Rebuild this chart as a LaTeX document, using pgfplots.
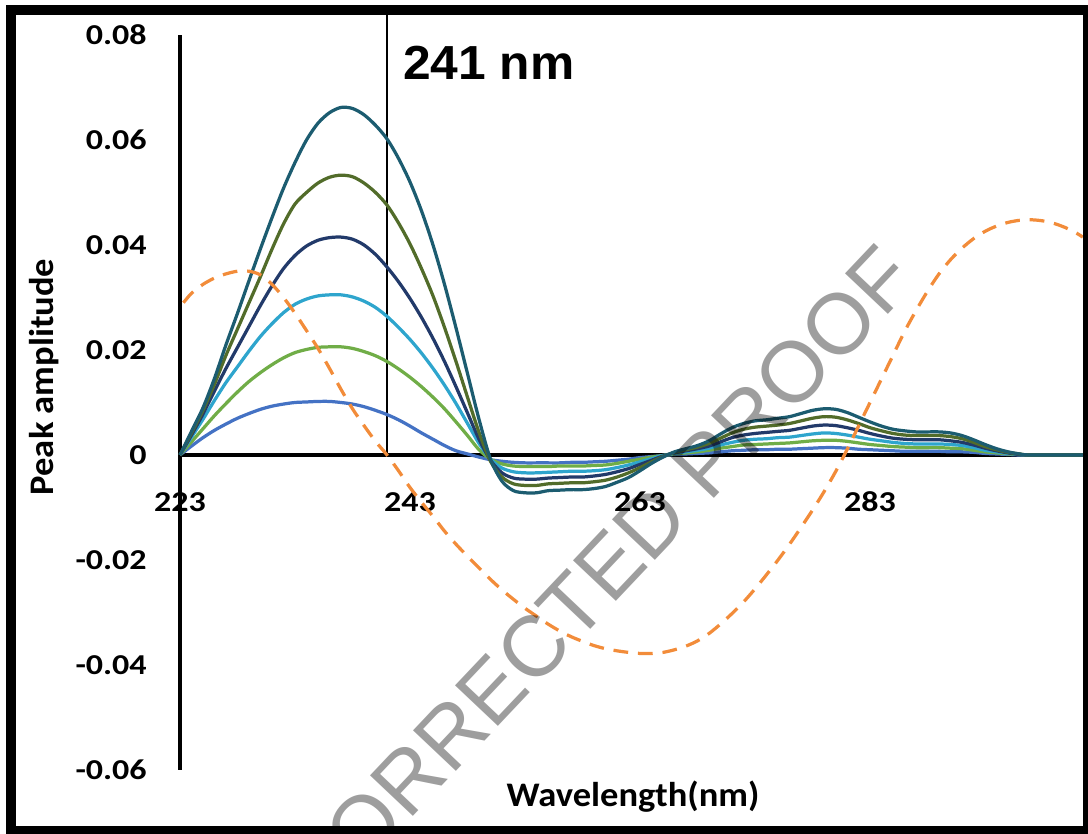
\documentclass[border=0pt]{standalone}
\usepackage{fontspec}
\usepackage{pgfplots}
\usepackage{pgfplotstable}
\pgfplotsset{compat=1.18}

\newfontfamily\tickfont{Carlito}[FakeStretch=1.18]
\newfontfamily\labfont{Carlito}[FakeStretch=1.06]
\newfontfamily\headfont{Liberation Sans}[FakeStretch=1.04]
\newfontfamily\wmfont{Liberation Sans}

\definecolor{sBlue}{RGB}{68,114,196}
\definecolor{sGreen}{RGB}{112,173,71}
\definecolor{sCyan}{RGB}{46,165,205}
\definecolor{sNavy}{RGB}{34,58,106}
\definecolor{sOlive}{RGB}{82,108,42}
\definecolor{sTeal}{RGB}{28,92,112}
\definecolor{sOrange}{RGB}{242,140,58}

% six concentrations, first-derivative style spectra
\pgfplotstableread{
x     c1      c2      c3      c4      c5      c6
223   0       0       0       0       0       0
224   0.0017  0.0025  0.0034  0.0038  0.0042  0.0045
225   0.0033  0.0050  0.0068  0.0078  0.0085  0.0090
226   0.0047  0.0075  0.0104  0.0122  0.0135  0.0146
227   0.0059  0.0098  0.0138  0.0165  0.0190  0.0210
228   0.0070  0.0120  0.0168  0.0205  0.0240  0.0270
229   0.0079  0.0140  0.0198  0.0245  0.0290  0.0332
230   0.0087  0.0157  0.0226  0.0285  0.0340  0.0393
231   0.0093  0.0172  0.0250  0.0322  0.0392  0.0452
232   0.0097  0.0185  0.0271  0.0355  0.0440  0.0508
233   0.0100  0.0195  0.0287  0.0380  0.0478  0.0557
234   0.0101  0.0201  0.0297  0.0398  0.0500  0.0600
235   0.0102  0.0205  0.0303  0.0409  0.0518  0.0632
236   0.0102  0.0206  0.0305  0.0414  0.0529  0.0652
237   0.0100  0.0206  0.0305  0.0415  0.0533  0.0662
238   0.0097  0.0203  0.0301  0.0411  0.0530  0.0660
239   0.0092  0.0197  0.0293  0.0400  0.0518  0.0648
240   0.0085  0.0189  0.0281  0.0382  0.0500  0.0628
241   0.0077  0.0178  0.0264  0.0358  0.0476  0.0602
242   0.0067  0.0164  0.0243  0.0330  0.0442  0.0565
243   0.0055  0.0148  0.0220  0.0298  0.0402  0.0520
244   0.0042  0.0130  0.0194  0.0262  0.0355  0.0465
245   0.0030  0.0110  0.0165  0.0222  0.0303  0.0400
246   0.0018  0.0088  0.0133  0.0178  0.0243  0.0325
247   0.0008  0.0063  0.0098  0.0130  0.0178  0.0242
248   0.0002  0.0037  0.0060  0.0080  0.0110  0.0155
249  -0.0004  0.0010  0.0022  0.0030  0.0043  0.0068
250  -0.0009 -0.0008 -0.0008 -0.0010 -0.0012 -0.0008
251  -0.0012 -0.0017 -0.0025 -0.0034 -0.0042 -0.0050
252  -0.0014 -0.0021 -0.0032 -0.0044 -0.0055 -0.0068
253  -0.0015 -0.0022 -0.0034 -0.0046 -0.0058 -0.0072
254  -0.0015 -0.0022 -0.0034 -0.0046 -0.0058 -0.0072
255  -0.0015 -0.0022 -0.0033 -0.0044 -0.0055 -0.0068
256  -0.0015 -0.0021 -0.0032 -0.0043 -0.0054 -0.0067
257  -0.0014 -0.0021 -0.0031 -0.0042 -0.0053 -0.0066
258  -0.0014 -0.0021 -0.0031 -0.0042 -0.0053 -0.0066
259  -0.0013 -0.0020 -0.0030 -0.0040 -0.0051 -0.0064
260  -0.0012 -0.0019 -0.0028 -0.0037 -0.0048 -0.0060
261  -0.0010 -0.0016 -0.0024 -0.0032 -0.0042 -0.0052
262  -0.0008 -0.0012 -0.0019 -0.0026 -0.0034 -0.0043
263  -0.0005 -0.0008 -0.0013 -0.0018 -0.0024 -0.0030
264  -0.0003 -0.0004 -0.0007 -0.0010 -0.0013 -0.0016
265  -0.0001 -0.0001 -0.0001 -0.0002 -0.0003 -0.0004
266   0.0001  0.0002  0.0003  0.0004  0.0005  0.0006
267   0.0002  0.0004  0.0006  0.0008  0.0010  0.0012
268   0.0003  0.0006  0.0009  0.0012  0.0015  0.0018
269   0.0004  0.0009  0.0013  0.0017  0.0022  0.0027
270   0.0006  0.0013  0.0019  0.0025  0.0032  0.0040
271   0.0008  0.0016  0.0024  0.0033  0.0042  0.0052
272   0.0009  0.0019  0.0028  0.0038  0.0049  0.0060
273   0.0010  0.0020  0.0030  0.0041  0.0053  0.0065
274   0.0010  0.0021  0.0031  0.0043  0.0055  0.0067
275   0.0011  0.0022  0.0033  0.0045  0.0057  0.0070
276   0.0011  0.0023  0.0034  0.0047  0.0060  0.0073
277   0.0012  0.0025  0.0037  0.0051  0.0065  0.0079
278   0.0013  0.0027  0.0040  0.0055  0.0070  0.0085
279   0.0014  0.0028  0.0042  0.0057  0.0073  0.0088
280   0.0014  0.0028  0.0041  0.0056  0.0072  0.0087
281   0.0013  0.0026  0.0038  0.0052  0.0067  0.0081
282   0.0011  0.0023  0.0034  0.0047  0.0060  0.0072
283   0.0010  0.0020  0.0030  0.0041  0.0052  0.0063
284   0.0009  0.0018  0.0027  0.0036  0.0046  0.0055
285   0.0008  0.0016  0.0024  0.0032  0.0041  0.0049
286   0.0007  0.0015  0.0022  0.0030  0.0038  0.0046
287   0.0007  0.0014  0.0021  0.0029  0.0037  0.0044
288   0.0007  0.0014  0.0021  0.0029  0.0037  0.0044
289   0.0007  0.0014  0.0021  0.0029  0.0037  0.0044
290   0.0006  0.0013  0.0020  0.0027  0.0035  0.0042
291   0.0006  0.0012  0.0018  0.0024  0.0031  0.0037
292   0.0005  0.0009  0.0014  0.0019  0.0024  0.0029
293   0.0003  0.0006  0.0009  0.0013  0.0016  0.0020
294   0.0002  0.0004  0.0006  0.0008  0.0010  0.0012
295   0.0001  0.0002  0.0003  0.0004  0.0005  0.0006
296   0       0.0001  0.0001  0.0001  0.0002  0.0002
297   0       0       0       0       0       0
301.5 0       0       0       0       0       0
}\spectra

% dashed reference curve
\pgfplotstableread{
x     y
223.3  0.0290
224    0.0308
225    0.0325
226    0.0337
227    0.0345
228    0.0350
229    0.0350
230    0.0343
231    0.0325
232    0.0300
233    0.0270
234    0.0237
235    0.0203
236    0.0165
237    0.0125
238    0.0088
239    0.0056
240    0.0026
241    0.0000
242   -0.0030
243   -0.0062
244   -0.0090
245   -0.0117
246   -0.0145
247   -0.0170
248   -0.0193
249   -0.0215
250   -0.0237
251   -0.0257
252   -0.0275
253   -0.0292
254   -0.0307
255   -0.0322
256   -0.0335
257   -0.0346
258   -0.0355
259   -0.0363
260   -0.0369
261   -0.0373
262   -0.0376
263   -0.0378
264   -0.0378
265   -0.0376
266   -0.0371
267   -0.0364
268   -0.0354
269   -0.0340
270   -0.0322
271   -0.0302
272   -0.0280
273   -0.0255
274   -0.0228
275   -0.0200
276   -0.0170
277   -0.0138
278   -0.0105
279   -0.0070
280   -0.0032
281    0.0010
282    0.0055
283    0.0100
284    0.0145
285    0.0190
286    0.0235
287    0.0275
288    0.0312
289    0.0345
290    0.0372
291    0.0394
292    0.0412
293    0.0426
294    0.0436
295    0.0443
296    0.0447
297    0.0448
298    0.0446
299    0.0441
300    0.0433
301    0.0422
301.5  0.0415
}\dashed

\begin{document}
\begin{tikzpicture}
\useasboundingbox (0,0) rectangle (27.2,20.85);

\begin{axis}[
  at={(4.5cm,1.6cm)}, anchor=south west,
  scale only axis, width=22.575cm, height=18.375cm,
  xmin=223, xmax=301.52, ymin=-0.06, ymax=0.08,
  axis x line*=middle, axis y line*=left,
  axis line style={line width=2.8pt, black},
  hide obscured x ticks=false, hide obscured y ticks=false,
  scaled x ticks=false, scaled y ticks=false,
  major tick length=0pt,
  xtick={223,243,263,283}, xticklabels={223,243,263,283},
  ytick={-0.06,-0.04,-0.02,0,0.02,0.04,0.06,0.08},
  yticklabels={-0.06,-0.04,-0.02,0,0.02,0.04,0.06,0.08},
  xticklabel style={font=\tickfont\bfseries\fontsize{20.5}{24}\selectfont,
    anchor=center, inner sep=0pt, yshift=-1.175cm},
  yticklabel style={font=\tickfont\bfseries\fontsize{20.5}{24}\selectfont,
    anchor=east, inner sep=0pt, xshift=-0.825cm},
  xlabel={Wavelength(nm)}, ylabel={Peak amplitude},
  xlabel style={font=\labfont\bfseries\fontsize{24.5}{28}\selectfont,
    at={(axis description cs:0.5017,-0.0503)}, anchor=base},
  ylabel style={font=\labfont\bfseries\fontsize{24.5}{28}\selectfont,
    at={(axis description cs:-0.1506,0.5347)}, anchor=center},
  clip=false,
  every axis plot/.append style={line width=2.3pt, smooth},
]
\draw[line width=1.4pt] (axis cs:241,0) -- (axis cs:241,0.0848);

\addplot[sBlue]  table[x=x,y=c1] {\spectra};
\addplot[sGreen] table[x=x,y=c2] {\spectra};
\addplot[sCyan]  table[x=x,y=c3] {\spectra};
\addplot[sNavy]  table[x=x,y=c4] {\spectra};
\addplot[sOlive] table[x=x,y=c5] {\spectra};
\addplot[sTeal]  table[x=x,y=c6] {\spectra};
\addplot[sOrange, dash pattern=on 10.5pt off 7pt] table[x=x,y=y] {\dashed};
\end{axis}

\node[anchor=base west, inner sep=0pt,
  font=\headfont\bfseries\fontsize{34}{40}\selectfont] at (10.075,18.85) {241 nm};

% watermark
\node[rotate=46.6, inner sep=0pt, text=black, opacity=0.38,
  font=\wmfont\fontsize{61}{70}\selectfont] at (14.96,6.4) {CORRECTED PROOF};

% outer frame
\draw[line width=0.25cm] (0.275,0.075) rectangle (27.2,20.6);
\end{tikzpicture}
\end{document}
